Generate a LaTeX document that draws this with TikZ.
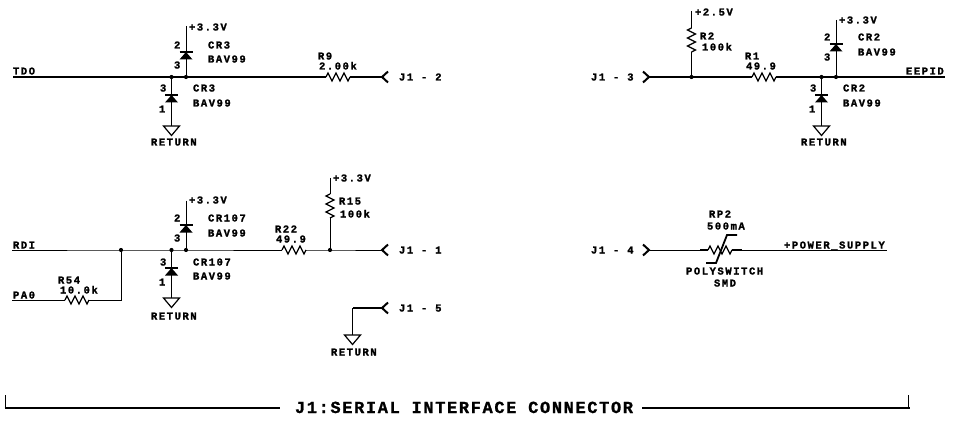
\documentclass[tikz,border=0pt]{standalone}
\usepackage{fontspec}
\newfontfamily\schfont[LetterSpace=15,BoldFeatures={FakeBold=1.6}]{Liberation Mono}
\newfontfamily\ttlfont[LetterSpace=10,BoldFeatures={FakeBold=1.2}]{Liberation Mono}
\tikzset{
  x=1pt,y=-1pt,
  wire/.style={line width=1pt,line cap=butt},
  bus/.style={line width=2pt,line cap=butt},
  lbl/.style={inner sep=0pt,outer sep=0pt,anchor=west,text height=7pt,text depth=0pt,
    font=\fontsize{10.5}{12}\schfont\bfseries},
  title/.style={inner sep=0pt,outer sep=0pt,anchor=west,text height=11pt,text depth=0pt,
    font=\fontsize{16.9}{20}\ttlfont\bfseries},
  junc/.style={circle,fill=black,inner sep=0pt,minimum size=4.2pt},
  resh/.pic={
    \draw[line width=1.2pt,line join=miter] (0,0) -- (2,-4) -- (6,4) -- (10,-4) -- (14,4) -- (18,-4) -- (22,4) -- (24,0);
    \coordinate (-a) at (0,0); \coordinate (-b) at (24,0);},
  resv/.pic={
    \draw[line width=1.2pt,line join=miter] (0,0) -- (-4,2) -- (4,6) -- (-4,10) -- (4,14) -- (-4,18) -- (4,22) -- (0,24);
    \coordinate (-a) at (0,0); \coordinate (-b) at (0,24);},
  diode/.pic={
    \fill (0,0) -- (-6.5,7.5) -- (6.5,7.5) -- cycle;
    \draw[line width=1.4pt] (-6.5,0) -- (6.5,0);},
  gnd/.pic={
    \draw[line width=1.2pt,line join=miter] (-8,0) -- (8,0) -- (0,9.5) -- cycle;},
  chevl/.pic={
    \draw[line width=2pt,line join=miter] (6,-5.5) -- (0,0) -- (6,5.5);},
  chevr/.pic={
    \draw[line width=2pt,line join=miter] (-6,-5.5) -- (0,0) -- (-6,5.5);},
}
\begin{document}
\begin{tikzpicture}
\useasboundingbox (0,0) rectangle (956,425);
% ---------- TDO block
\coordinate (tdoL) at (13,77);
\node[junc] (ja1) at (171.5,77) {};
\node[junc] (ja2) at (186,77) {};
\pic (r9) at (326,77) {resh};
\coordinate (ca) at (382,77);
\pic at (ca) {chevl};
\draw[bus] (tdoL) -- (ja1.center) -- (ja2.center) -- (r9-a);
\draw[bus] (r9-b) -- (ca);
\coordinate (va1) at (186,26);
\draw[wire] (va1) -- (ja2);
\pic at (186,52) {diode};
\coordinate (ga1) at (171.5,126);
\draw[wire] (ja1) -- (ga1);
\pic at (171.5,95) {diode};
\pic at (ga1) {gnd};
\node[lbl] (t1) at (13,71) {TDO};
\node[lbl] (t2) at (189,27) {+3.3V};
\node[lbl] (t3) at (174,45) {2};
\node[lbl] (t4) at (208,45) {CR3};
\node[lbl] (t5) at (174,65) {3};
\node[lbl] (t6) at (208,59) {BAV99};
\node[lbl] (t7) at (160,88) {3};
\node[lbl] (t8) at (193,88) {CR3};
\node[lbl] (t9) at (193,103) {BAV99};
\node[lbl] (t10) at (159,109) {1};
\node[lbl] (t11) at (151,142) {RETURN};
\node[lbl] (t12) at (318,56) {R9};
\node[lbl] (t13) at (319,66) {2.00k};
\node[lbl] (t14) at (399,77) {J1 - 2};
% ---------- RDI block
\coordinate (rdiL) at (12,250);
\node[junc] (jb0) at (121,250) {};
\node[junc] (jb1) at (171.5,250) {};
\node[junc] (jb2) at (186,250) {};
\node[junc] (jb3) at (330,250) {};
\pic (r22) at (282,250) {resh};
\coordinate (cb) at (382,250);
\pic at (cb) {chevl};
\draw[wire] (rdiL) -- (jb0.center) -- (jb1.center) -- (jb2.center) -- (r22-a);
\draw[wire] (r22-b) -- (jb3.center) -- (cb);
\coordinate (paL) at (12,300);
\coordinate (paC) at (121,300);
\pic (r54) at (65,300) {resh};
\draw[wire] (paL) -- (r54-a);
\draw[wire] (r54-b) -- (paC) -- (jb0);
\coordinate (vb1) at (186,200.5);
\draw[wire] (vb1) -- (jb2);
\pic at (186,225) {diode};
\coordinate (gb1) at (171.5,298);
\draw[wire] (jb1) -- (gb1);
\pic at (171.5,268) {diode};
\pic at (gb1) {gnd};
\coordinate (vb2) at (330,178);
\pic (r15) at (330,194) {resv};
\draw[wire] (vb2) -- (r15-a);
\draw[wire] (r15-b) -- (jb3);
\coordinate (cc) at (382,308);
\coordinate (cc1) at (352.5,308);
\coordinate (gc) at (352.5,335);
\pic at (cc) {chevl};
\draw[bus] (cc) -- (cc1);
\draw[wire] (cc1) -- (gc);
\pic at (gc) {gnd};
\node[lbl] (u1) at (13,245) {RDI};
\node[lbl] (u2) at (13,295) {PA0};
\node[lbl] (u3) at (58,280) {R54};
\node[lbl] (u4) at (60,290) {10.0k};
\node[lbl] (u5) at (189,200) {+3.3V};
\node[lbl] (u6) at (174,218) {2};
\node[lbl] (u7) at (208,218) {CR107};
\node[lbl] (u8) at (174,238) {3};
\node[lbl] (u9) at (208,233) {BAV99};
\node[lbl] (u10) at (160,262) {3};
\node[lbl] (u11) at (193,262) {CR107};
\node[lbl] (u12) at (193,276) {BAV99};
\node[lbl] (u13) at (159,282) {1};
\node[lbl] (u14) at (151,316) {RETURN};
\node[lbl] (u15) at (275,229) {R22};
\node[lbl] (u16) at (276,239) {49.9};
\node[lbl] (u17) at (333,178) {+3.3V};
\node[lbl] (u18) at (339,201) {R15};
\node[lbl] (u19) at (340,214) {100k};
\node[lbl] (u20) at (399,250) {J1 - 1};
\node[lbl] (u21) at (399,308) {J1 - 5};
\node[lbl] (u22) at (331,352) {RETURN};
% ---------- EEPID block
\coordinate (cd) at (649,77);
\pic at (cd) {chevr};
\node[junc] (jc1) at (691.5,77) {};
\pic (r1) at (752,77) {resh};
\node[junc] (jc2) at (821.5,77) {};
\node[junc] (jc3) at (836,77) {};
\coordinate (eeR) at (945,77);
\draw[bus] (cd) -- (jc1.center) -- (r1-a);
\draw[bus] (r1-b) -- (jc2.center) -- (jc3.center) -- (eeR);
\coordinate (vc1) at (691.5,11);
\pic (r2) at (691.5,28) {resv};
\draw[wire] (vc1) -- (r2-a);
\draw[wire] (r2-b) -- (jc1);
\coordinate (vc2) at (836,20);
\draw[wire] (vc2) -- (jc3);
\pic at (836,44) {diode};
\coordinate (gd) at (821.5,126);
\draw[wire] (jc2) -- (gd);
\pic at (821.5,95) {diode};
\pic at (gd) {gnd};
\node[lbl] (v1) at (591,77) {J1 - 3};
\node[lbl] (v2) at (695,12) {+2.5V};
\node[lbl] (v3) at (700,36) {R2};
\node[lbl] (v4) at (702,47) {100k};
\node[lbl] (v5) at (745,56) {R1};
\node[lbl] (v6) at (746,66) {49.9};
\node[lbl] (v7) at (839,20) {+3.3V};
\node[lbl] (v8) at (824,37) {2};
\node[lbl] (v9) at (858,37) {CR2};
\node[lbl] (v10) at (824,57) {3};
\node[lbl] (v11) at (858,52) {BAV99};
\node[lbl] (v12) at (810,88) {3};
\node[lbl] (v13) at (843,88) {CR2};
\node[lbl] (v14) at (843,103) {BAV99};
\node[lbl] (v15) at (809,109) {1};
\node[lbl] (v16) at (801,142) {RETURN};
\node[lbl] (v17) at (906,71) {EEPID};
% ---------- Power block
\coordinate (ce) at (649,250);
\pic at (ce) {chevr};
\pic (rp) at (708,250) {resh};
\coordinate (pwR) at (887,250);
\coordinate (rpL) at (700,250);
\coordinate (rpR) at (742,250);
\draw[wire] (ce) -- (rpL);
\draw[bus] (rpL) -- (rp-a);
\draw[bus] (rp-b) -- (rpR);
\draw[wire] (rpR) -- (pwR);
\draw[line width=1.8pt,line join=miter] (706,263) -- (716,263) -- (727,235) -- (737,235);
\node[lbl] (w1) at (709,214) {RP2};
\node[lbl] (w2) at (707,226) {500mA};
\node[lbl] (w3) at (686,271) {POLYSWITCH};
\node[lbl] (w4) at (714,283) {SMD};
\node[lbl] (w5) at (784,245) {+POWER\_SUPPLY};
\node[lbl] (w6) at (591,250) {J1 - 4};
% ---------- Title bracket
\node[title] (ttl) at (295,407.5) {J1:SERIAL INTERFACE CONNECTOR};
\coordinate (bl) at (5.5,395);
\coordinate (br) at (908.5,395);
\coordinate (bl1) at (5.5,408);
\coordinate (br1) at (908.5,408);
\coordinate (bl2) at (280,408);
\coordinate (br2) at (642,408);
\draw[wire] (bl) -- (bl1);
\draw[wire] (br) -- (br1);
\draw[bus] (4.5,408) -- (bl2);
\draw[bus] (br2) -- (909.5,408);
\end{tikzpicture}
\end{document}
